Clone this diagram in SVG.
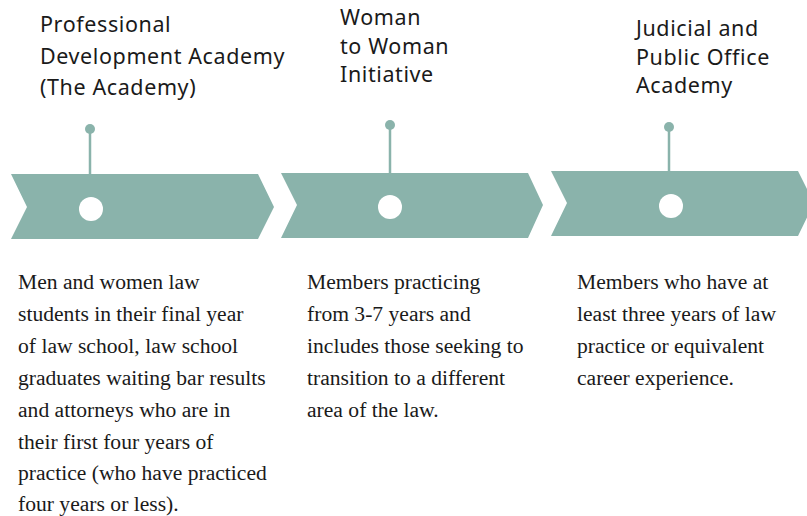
<svg xmlns="http://www.w3.org/2000/svg" width="807" height="516" viewBox="0 0 807 516">
<style>
.chev{fill:#8ab3ab}
.dot{fill:#ffffff}
.pin{stroke:#8ab3ab;stroke-width:2.5;fill:none}
.pinhead{fill:#8ab3ab}
.title{font-family:"Noto Sans","Open Sans",sans-serif;font-size:21.5px;fill:#1a1a1a;letter-spacing:0.6px}
.body{font-family:"Liberation Serif","Times New Roman",serif;font-size:21.6px;fill:#1a1a1a}
</style>
<rect width="807" height="516" fill="#ffffff"/>
<g id="connectors">
<line class="pin" x1="90" y1="129" x2="90" y2="175"/>
<circle class="pinhead" cx="90" cy="129" r="5"/>
<line class="pin" x1="390" y1="125" x2="390" y2="174"/>
<circle class="pinhead" cx="390" cy="125" r="5"/>
<line class="pin" x1="669" y1="127" x2="669" y2="172"/>
<circle class="pinhead" cx="669" cy="127" r="5"/>
</g>
<g id="stage1">
<polygon class="chev" points="11,174 258,174 274,207 258,239 11,239 27,207"/>
<circle class="dot" cx="91" cy="209" r="12"/>
<text class="title" x="40" y="32">Professional</text>
<text class="title" x="40" y="64">Development Academy</text>
<text class="title" x="40" y="95">(The Academy)</text>
<text class="body" x="18" y="289">Men and women law</text>
<text class="body" x="18" y="321">students in their final year</text>
<text class="body" x="18" y="353">of law school, law school</text>
<text class="body" x="18" y="385">graduates waiting bar results</text>
<text class="body" x="18" y="417">and attorneys who are in</text>
<text class="body" x="18" y="449">their first four years of</text>
<text class="body" x="18" y="480">practice (who have practiced</text>
<text class="body" x="18" y="511">four years or less).</text>
</g>
<g id="stage2">
<polygon class="chev" points="281,173 528,173 543,205 528,238 281,238 297,205"/>
<circle class="dot" cx="390" cy="207" r="12"/>
<text class="title" x="340" y="25">Woman</text>
<text class="title" x="340" y="54">to Woman</text>
<text class="title" x="340" y="82">Initiative</text>
<text class="body" x="307" y="289">Members practicing</text>
<text class="body" x="307" y="321">from 3-7 years and</text>
<text class="body" x="307" y="353">includes those seeking to</text>
<text class="body" x="307" y="385">transition to a different</text>
<text class="body" x="307" y="417">area of the law.</text>
</g>
<g id="stage3">
<polygon class="chev" points="551,171 798,171 814,203 798,236 551,236 567,203"/>
<circle class="dot" cx="671" cy="206" r="12"/>
<text class="title" x="636" y="36">Judicial and</text>
<text class="title" x="636" y="65">Public Office</text>
<text class="title" x="636" y="93">Academy</text>
<text class="body" x="577" y="289">Members who have at</text>
<text class="body" x="577" y="321">least three years of law</text>
<text class="body" x="577" y="353">practice or equivalent</text>
<text class="body" x="577" y="385">career experience.</text>
</g>
</svg>
